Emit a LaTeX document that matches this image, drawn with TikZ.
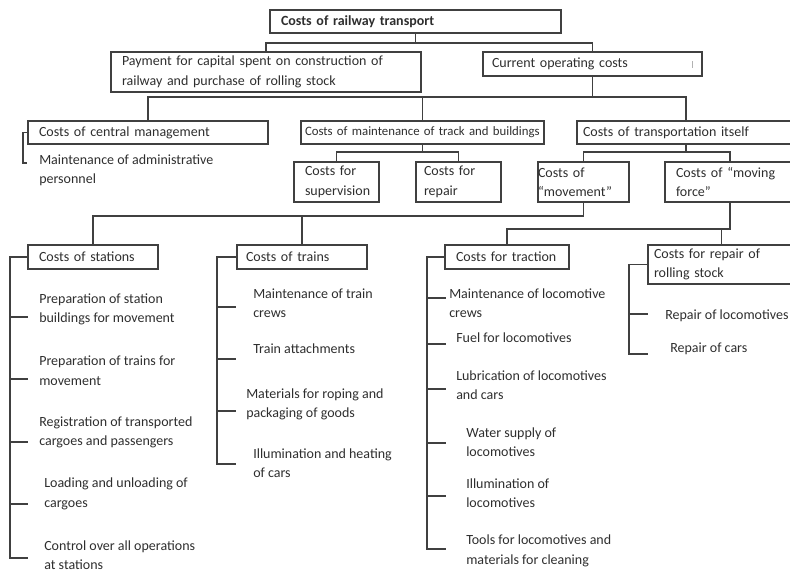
\documentclass[tikz,border=0pt]{standalone}
\usepackage{fontspec}
\usepackage{graphicx}
\setmainfont{Carlito}
\definecolor{lc}{HTML}{404040}
\definecolor{tc}{HTML}{2E2E2E}
\begin{document}
\begin{tikzpicture}[x=0.75pt,y=-0.75pt,
  every node/.style={font=\fontsize{10.5}{14.6}\selectfont, text=tc},
  bx/.style n args={3}{draw=lc, line width=0.8pt, anchor=north west, outer sep=0pt, inner ysep=0pt,
     inner xsep=#1pt, text width=#2pt, minimum height=#3pt, align=left,
     execute at begin node={\hyphenpenalty10000\relax}},
  it/.style={anchor=west, inner sep=0pt, align=left},
  ln/.style={draw=lc, line width=0.8pt}]
\useasboundingbox (0,0) rectangle (790,572);
\clip (0,0) rectangle (790,572);

% boxes
\node[bx={8.25}{201.75}{17.25}] (top) at (270,10) {\textbf{Costs of railway transport}};
\node[bx={8.25}{216}{30}] (pay) at (111,52) {Payment for capital spent on construction of\\railway and purchase of rolling stock};
\node[bx={6.75}{150.75}{18}] (cur) at (483,52) {Current operating costs};
\node[bx={8.25}{163.5}{17.25}] (cen) at (28,121) {Costs of central management};
\node[bx={3}{176.25}{17.25}] (trk) at (301,121) {\resizebox{176pt}{!}{Costs of maintenance of track and buildings}};
\node[bx={4.5}{154.5}{17.25}] (tra) at (577,121) {Costs of transportation itself};
\node[bx={8.25}{47.25}{30}] (sup) at (294,162) {Costs for\\supervision};
\node[bx={6}{51.75}{30}] (rep) at (416,162) {Costs for\\repair};
\node[bx={0}{68.25}{30}] (mov) at (538,162) {Costs of\\``movement''};
\node[bx={8.25}{81}{30}] (frc) at (665,162) {Costs of ``moving\\force''};
\node[bx={8.25}{81}{18}] (sta) at (28,245) {Costs of stations};
\node[bx={6.75}{84}{18}] (trn) at (237,245) {Costs of trains};
\node[bx={8.25}{76.5}{18}] (trc) at (445,245) {Costs for traction};
\node[bx={4.5}{101.25}{29.25}] (rrs) at (648,245) {Costs for repair of\\rolling stock};

\draw[black!30, line width=0.5pt] (692,61) -- (692,68);

% tree connectors
\draw[ln] (top.south) -- ++(0,10) -| (pay.north);
\draw[ln] (top.south) -- ++(0,10) -| (cur.north);
\draw[ln] (cur.south) -- ++(0,21) -| (cen.north);
\draw[ln] (cur.south) -- ++(0,21) -| (trk.north);
\draw[ln] (cur.south) -- ++(0,21) -| (tra.north);
\draw[ln] (trk.south) -- ++(0,8) -| (sup.north);
\draw[ln] (trk.south) -- ++(0,8) -| (rep.north);
\draw[ln] (tra.south) -- ++(0,8) -| (mov.north);
\draw[ln] (tra.south) -- ++(0,8) -| (frc.north);
\draw[ln] (mov.south) -- ++(0,14) -| (sta.north);
\draw[ln] (mov.south) -- ++(0,14) -| (trn.north);
\draw[ln] (frc.south) -- ++(0,27) -| (trc.north);
\draw[ln] (frc.south) -- ++(0,27) -| (rrs.north);

% item texts
\node[it] (c1) at (39,170) {Maintenance of administrative\\personnel};

\node[it] (s1) at (39,309.5) {Preparation of station\\buildings for movement};
\node[it] (s2) at (39,370.5) {Preparation of trains for\\movement};
\node[it] (s3) at (39,432.5) {Registration of transported\\cargoes and passengers};
\node[it] (s4) at (44,494) {Loading and unloading of\\cargoes};
\node[it] (s5) at (44,555) {Control over all operations\\at stations};

\node[it] (t1) at (253,303) {Maintenance of train\\crews};
\node[it] (t2) at (253,349) {Train attachments};
\node[it] (t3) at (246,404.5) {Materials for roping and\\packaging of goods};
\node[it] (t4) at (253,463) {Illumination and heating\\of cars};

\node[it] (r1) at (449,303) {Maintenance of locomotive\\crews};
\node[it] (r2) at (456,338) {Fuel for locomotives};
\node[it] (r3) at (456,385) {Lubrication of locomotives\\and cars};
\node[it] (r4) at (466,442) {Water supply of\\locomotives};
\node[it] (r5) at (466,493) {Illumination of\\locomotives};
\node[it] (r6) at (466,551) {Tools for locomotives and\\materials for cleaning};

\node[it] (p1) at (665,316) {Repair of locomotives};
\node[it] (p2) at (670,349) {Repair of cars};

% bracket bars and stub ends
\coordinate (cb) at (23,0);
\coordinate (c1e) at (27,163);
\draw[ln] (cen.west) -- (cen.west -| cb) |- (c1e);

\coordinate (sb) at (10,0);
\coordinate (s1e) at (28,317);
\coordinate (s2e) at (28,379);
\coordinate (s3e) at (28,442);
\coordinate (s4e) at (28,504);
\coordinate (s5e) at (28,558);
\draw[ln] (sta.west) -- (sta.west -| sb) |- (s5e);
\foreach \i in {1,...,4} \draw[ln] (s\i e -| sb) -- (s\i e);

\coordinate (tb) at (217,0);
\coordinate (t1e) at (236,307);
\coordinate (t2e) at (236,359);
\coordinate (t3e) at (236,411);
\coordinate (t4e) at (236,464);
\draw[ln] (trn.west) -- (trn.west -| tb) |- (t4e);
\foreach \i in {1,...,3} \draw[ln] (t\i e -| tb) -- (t\i e);

\coordinate (rb) at (427,0);
\coordinate (r1e) at (446,298);
\coordinate (r2e) at (446,344);
\coordinate (r3e) at (446,389);
\coordinate (r4e) at (446,443);
\coordinate (r5e) at (446,496);
\coordinate (r6e) at (446,549);
\draw[ln] (trc.west) -- (trc.west -| rb) |- (r6e);
\foreach \i in {1,...,5} \draw[ln] (r\i e -| rb) -- (r\i e);

\coordinate (pb) at (629,0);
\coordinate (p1e) at (648,314);
\coordinate (p2e) at (648,354);
\draw[ln] (rrs.west) -- (rrs.west -| pb) |- (p2e);
\draw[ln] (p1e -| pb) -- (p1e);
\end{tikzpicture}
\end{document}
